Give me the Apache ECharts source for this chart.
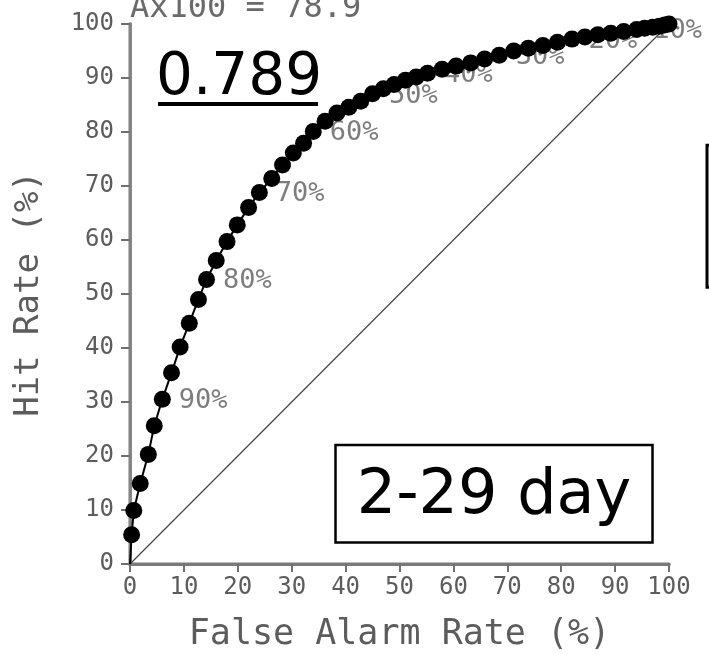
<!DOCTYPE html>
<html>
<head>
<meta charset="utf-8">
<script src="https://cdn.jsdelivr.net/npm/echarts@6/dist/echarts.min.js"></script>
<style>
  html, body { margin: 0; padding: 0; background: #ffffff; }
  #chart { width: 709px; height: 654px; }
</style>
</head>
<body>
<div id="chart"></div>
<script>
// ROC curve: false alarm rate vs. hit rate, one point per 2% probability threshold
// (first point = 100% threshold, last point = 0% threshold).
const falseAlarmRate = [
  0.3, 0.7, 1.9, 3.4, 4.5, 6.0, 7.7, 9.3, 11.0, 12.7,
  14.2, 16.0, 18.0, 19.9, 22.0, 24.0, 26.3, 28.3, 30.3, 32.2,
  34.0, 36.2, 38.4, 40.6, 42.8, 45.0, 47.0, 49.0, 51.1, 53.1,
  55.2, 57.9, 60.5, 63.2, 65.8, 68.5, 71.2, 73.9, 76.6, 79.3,
  82.0, 84.4, 86.8, 89.2, 91.6, 94.0, 95.5, 97.0, 98.2, 99.2,
  100
];
const hitRate = [
  5.4, 9.9, 14.9, 20.3, 25.6, 30.5, 35.4, 40.2, 44.6, 49.0,
  52.7, 56.2, 59.7, 62.8, 66.0, 68.8, 71.4, 73.9, 76.1, 77.9,
  80.1, 82.0, 83.5, 84.6, 85.7, 87.1, 88.0, 88.8, 89.6, 90.2,
  90.9, 91.6, 92.2, 92.8, 93.5, 94.2, 95.0, 95.5, 96.0, 96.6,
  97.2, 97.6, 98.0, 98.3, 98.6, 99.0, 99.2, 99.4, 99.6, 99.8,
  100
];
// Threshold labels and the index of the point each one annotates
const thresholdLabels = ['90%', '80%', '70%', '60%', '50%', '40%', '30%', '20%', '10%'];
const thresholdIndex = [5, 10, 15, 20, 25, 30, 35, 40, 45];

const xTicks = { min: 0, max: 100, interval: 10 };
const yTicks = { min: 0, max: 100, interval: 10 };

const titleText = 'Ax100 = 78.9';
const scoreText = '0.789';
const leadText = '2-29 day';
const xName = 'False Alarm Rate (%)';
const yName = 'Hit Rate (%)';

const PIXEL_FONT = '"DejaVu Sans Mono", monospace';
const BIG_FONT = '"DejaVu Sans", sans-serif';
const GREY_TEXT = '#5c5c5c';

const curve = [{ value: [0, 0], symbol: 'none' }].concat(
  falseAlarmRate.map((x, i) => [x, hitRate[i]])
);
const labelPoints = thresholdIndex.map((idx, k) => ({
  value: [falseAlarmRate[idx], hitRate[idx]],
  name: thresholdLabels[k]
}));

const chart = echarts.init(document.getElementById('chart'), null, { renderer: 'canvas' });

chart.setOption({
  animation: false,
  backgroundColor: '#ffffff',
  grid: { left: 130, right: 40, top: 24, bottom: 90, containLabel: false, outerBoundsMode: 'none' },
  xAxis: [{
    type: 'value',
    min: xTicks.min, max: xTicks.max, interval: xTicks.interval,
    name: xName,
    nameLocation: 'middle',
    nameGap: 53,
    nameTextStyle: { fontFamily: PIXEL_FONT, fontSize: 35, color: GREY_TEXT },
    axisLine: { show: true, onZero: false, lineStyle: { color: '#bbbbbb', width: 4 } },
    axisTick: { show: true, inside: false, length: 8, lineStyle: { color: '#707070', width: 2 } },
    axisLabel: { margin: 12, fontFamily: PIXEL_FONT, fontSize: 24, color: GREY_TEXT },
    splitLine: { show: false }
  }, {
    type: 'value', position: 'top',
    min: xTicks.min, max: xTicks.max,
    axisLine: { show: true, lineStyle: { color: '#7a7a7a', width: 3 } },
    axisTick: { show: false }, axisLabel: { show: false }, splitLine: { show: false }
  }],
  yAxis: [{
    type: 'value',
    min: yTicks.min, max: yTicks.max, interval: yTicks.interval,
    name: yName,
    nameLocation: 'middle',
    nameGap: 84,
    nameTextStyle: { fontFamily: PIXEL_FONT, fontSize: 34, color: GREY_TEXT },
    axisLine: { show: true, onZero: false, lineStyle: { color: '#bbbbbb', width: 4 } },
    axisTick: { show: true, inside: false, length: 9, lineStyle: { color: '#707070', width: 2 } },
    axisLabel: { margin: 16, fontFamily: PIXEL_FONT, fontSize: 24, color: GREY_TEXT },
    splitLine: { show: false }
  }, {
    type: 'value', position: 'right',
    min: yTicks.min, max: yTicks.max,
    axisLine: { show: true, lineStyle: { color: '#858585', width: 3 } },
    axisTick: { show: false }, axisLabel: { show: false }, splitLine: { show: false }
  }],
  series: [{
    // no-skill diagonal
    type: 'line',
    data: [[0, 0], [100, 100]],
    symbol: 'none',
    lineStyle: { color: '#444444', width: 1.2 },
    z: 1,
    silent: true
  }, {
    // threshold annotations, drawn beneath the curve
    type: 'scatter',
    data: labelPoints,
    symbol: 'circle',
    symbolSize: 17,
    itemStyle: { color: 'rgba(0,0,0,0)' },
    label: {
      show: true,
      position: 'right',
      distance: 8,
      offset: [0, 2],
      formatter: p => p.name,
      fontFamily: PIXEL_FONT,
      fontSize: 27,
      color: GREY_TEXT
    },
    z: 2,
    silent: true
  }, {
    type: 'line',
    data: curve,
    symbol: 'circle',
    symbolSize: 17,
    showAllSymbol: true,
    itemStyle: { color: '#000000' },
    lineStyle: { color: '#000000', width: 2 },
    z: 3,
    silent: true
  }],
  graphic: [
    {
      type: 'text', x: 130, y: 25,
      style: { text: titleText, fontFamily: PIXEL_FONT, fontSize: 32, fill: '#6a6a6a', verticalAlign: 'bottom' }
    },
    {
      type: 'text', x: 156, y: 79,
      style: { text: scoreText, fontFamily: BIG_FONT, fontSize: 58, fill: '#000000', verticalAlign: 'middle' }
    },
    {
      type: 'rect', shape: { x: 158, y: 102, width: 160, height: 4 },
      style: { fill: '#000000' }
    },
    {
      type: 'rect', shape: { x: 335.5, y: 445, width: 317, height: 97.5 },
      style: { fill: '#ffffff', stroke: '#000000', lineWidth: 2.5 }, z: 10
    },
    {
      type: 'text', x: 494, y: 497, z: 11,
      style: { text: leadText, fontFamily: BIG_FONT, fontSize: 62, fill: '#000000', align: 'center', verticalAlign: 'middle' }
    },
    {
      type: 'rect', shape: { x: 707, y: 145.3, width: 50, height: 142 },
      style: { fill: '#ffffff', stroke: '#000000', lineWidth: 3 }
    }
  ]
});
</script>
</body>
</html>
